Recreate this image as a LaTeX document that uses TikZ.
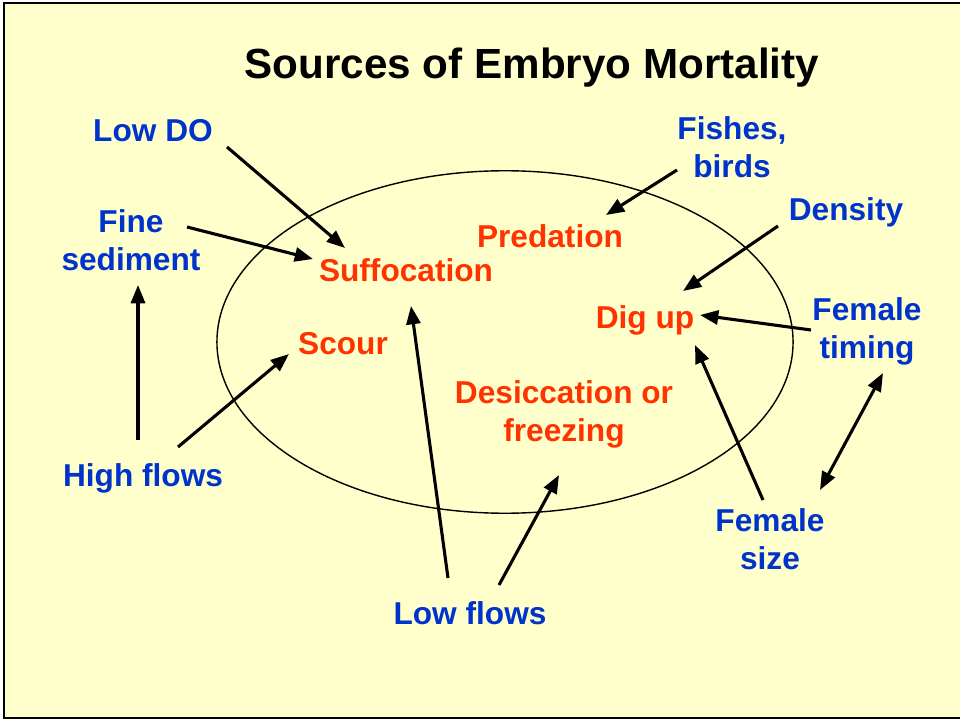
\documentclass[tikz,border=0pt]{standalone}
\usepackage{fontspec}
\setmainfont{Liberation Sans}
\usetikzlibrary{arrows.meta}
\definecolor{fond}{HTML}{FFFFCC}
\definecolor{bleu}{HTML}{0033CC}
\definecolor{rouge}{HTML}{FF3300}
\tikzset{
  epais/.style={line width=2.2pt},
  pointe/.tip={Triangle[length=13pt,width=10pt]},
  source/.style={text=bleu,font=\bfseries\fontsize{22.5}{27}\selectfont,align=center,inner sep=0pt},
  effet/.style={text=rouge,font=\bfseries\fontsize{22.5}{27}\selectfont,align=center,inner sep=0pt}
}
\newcommand{\cause}[2]{\draw[epais,-pointe] (#1) -- (#2)}
\begin{document}
\begin{tikzpicture}[x=0.025cm,y=-0.025cm]
%Frame
	\useasboundingbox (0,0) rectangle (960,721);
	\draw[line width=2pt,fill=fond] (4,3) rectangle (965,718);
	\node[font=\bfseries\fontsize{30}{36}\selectfont] (titre) at (532,68) {Sources of Embryo Mortality};
	\draw[line width=1pt] (505,342) ellipse [x radius=7.2cm, y radius=4.28cm];
%Effects inside
	\node[effet] (suffoc) at (406,270) {Suffocation};
	\node[effet] (predation) at (550,236) {Predation};
	\node[effet] (digup) at (645,320) {Dig up};
	\node[effet] (scour) at (343,344) {Scour};
	\node[effet] (desicc) at (564,414) {Desiccation or\\freezing};
%Sources outside
	\node[source] (lowdo) at (153,131) {Low DO};
	\node[source] (finesed) at (131,240) {Fine\\sediment};
	\node[source] (fishes) at (732,147) {Fishes,\\birds};
	\node[source] (density) at (846,212) {Density};
	\node[source] (femtiming) at (867,331) {Female\\timing};
	\node[source] (highflows) at (143,478) {High flows};
	\node[source] (femsize) at (770,539) {Female\\size};
	\node[source] (lowflows) at (470,613) {Low flows};
%Arrows
	\cause{[shift={(74,16)}]lowdo.center}{[shift={(-61,-22)}]suffoc.center};
	\cause{[shift={(56,-13)}]finesed.center}{[shift={(-93,-11)}]suffoc.center};
	\cause{[shift={(-55,23)}]fishes.center}{[shift={(56,-21)}]predation.center};
	\cause{[shift={(-68,14)}]density.center}{[shift={(38,-29)}]digup.center};
	\cause{[shift={(-56,-1)}]femtiming.center}{[shift={(55,-5)}]digup.center};
	\cause{[shift={(-5,-38)}]highflows.center}{[shift={(7,45)}]finesed.center};
	\cause{[shift={(35,-31)}]highflows.center}{[shift={(-54,10)}]scour.center};
	\cause{[shift={(-22,-35)}]lowflows.center}{[shift={(5,36)}]suffoc.center};
	\cause{[shift={(29,-28)}]lowflows.center}{[shift={(-5,61)}]desicc.center};
	\cause{[shift={(-7,-39)}]femsize.center}{[shift={(50,25)}]digup.center};
	\draw[epais,pointe-pointe] ([shift={(16,42)}]femtiming.center) -- ([shift={(50,-49)}]femsize.center);
\end{tikzpicture}
\end{document}
